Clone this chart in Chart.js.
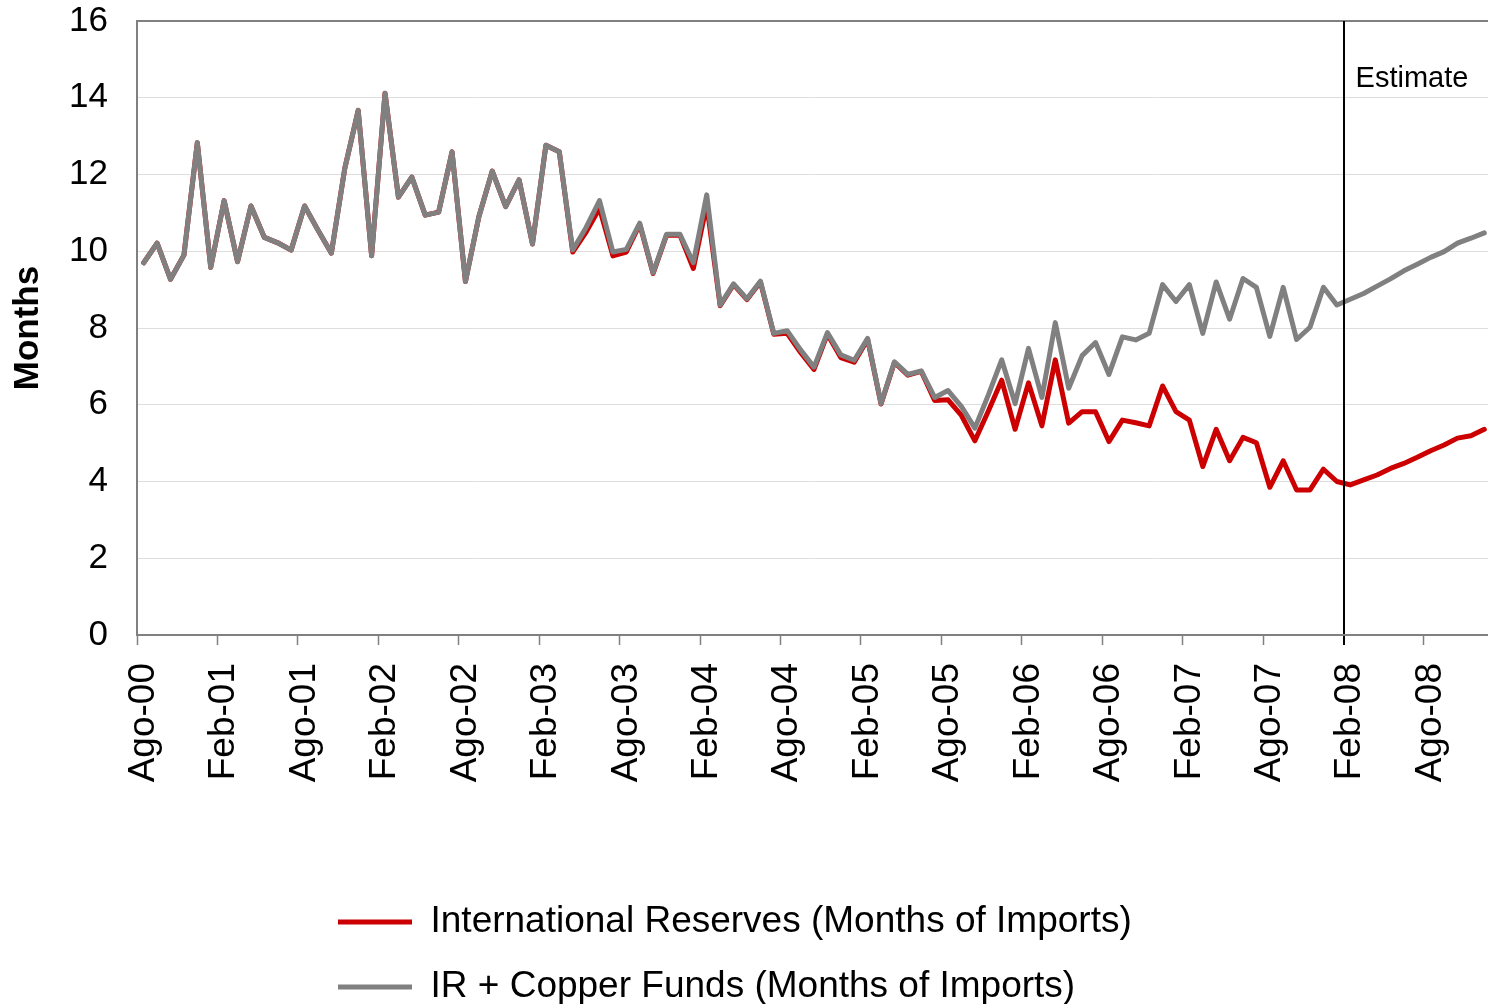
<!DOCTYPE html>
<html>
<head>
<meta charset="utf-8">
<script src="https://cdn.jsdelivr.net/npm/chart.js@4.4.1/dist/chart.umd.min.js"></script>
<style>
html,body{margin:0;padding:0;background:#fff;overflow:hidden;width:1488px;height:1004px;}
#wrap{position:absolute;left:0;top:0;width:1492px;height:1004px;}
</style>
</head>
<body>
<div id="wrap"><canvas id="c"></canvas></div>
<script>
// ---- categories (monthly, Ago-00 .. Dic-08) ----
const monthNames = ['Ene','Feb','Mar','Abr','May','Jun','Jul','Ago','Sep','Oct','Nov','Dic'];
const firstMonthIndex = 7;   // Ago
const firstYear = 2000;
const monthCount = 101;
const categories = [];
for (let k = 0; k < monthCount; k++) {
  const m = (firstMonthIndex + k) % 12;
  const y = firstYear + Math.floor((firstMonthIndex + k) / 12);
  categories.push(monthNames[m] + '-' + String(y % 100).padStart(2, '0'));
}
const labelEvery = 6;

// ---- series values (months of imports) ----
const internationalReserves = [
  9.70,10.21,9.27,9.90,12.83,9.58,11.32,9.73,11.18,10.36,
  10.22,10.03,11.18,10.55,9.95,12.16,13.67,9.88,14.12,11.41,
  11.93,10.94,11.02,12.59,9.21,10.90,12.09,11.16,11.86,10.19,
  12.76,12.59,9.98,10.50,11.12,9.88,9.98,10.70,9.42,10.42,
  10.42,9.55,11.22,8.58,9.13,8.74,9.20,7.84,7.86,7.36,
  6.92,7.84,7.23,7.11,7.70,6.02,7.10,6.77,6.87,6.11,
  6.13,5.72,5.06,5.83,6.64,5.36,6.57,5.45,7.17,5.52,
  5.82,5.82,5.04,5.60,5.53,5.45,6.49,5.82,5.60,4.39,
  5.36,4.54,5.15,5.01,3.85,4.54,3.78,3.78,4.32,4.00,
  3.91,4.04,4.17,4.34,4.47,4.63,4.80,4.95,5.13,5.19,
  5.36
];
const irPlusCopperFunds = [
  9.70,10.21,9.27,9.90,12.83,9.58,11.32,9.73,11.18,10.36,
  10.22,10.03,11.18,10.55,9.95,12.16,13.67,9.88,14.12,11.41,
  11.93,10.94,11.02,12.59,9.21,10.90,12.09,11.16,11.86,10.19,
  12.76,12.59,10.03,10.62,11.32,9.98,10.05,10.73,9.44,10.44,
  10.44,9.70,11.47,8.60,9.15,8.76,9.22,7.86,7.93,7.43,
  6.98,7.88,7.30,7.16,7.73,6.03,7.12,6.79,6.88,6.19,
  6.37,5.95,5.39,6.25,7.17,6.03,7.47,6.19,8.14,6.43,
  7.28,7.62,6.79,7.77,7.69,7.86,9.13,8.69,9.13,7.86,
  9.20,8.23,9.29,9.06,7.78,9.06,7.70,8.02,9.06,8.60,
  8.75,8.90,9.09,9.28,9.49,9.66,9.84,9.99,10.21,10.34,
  10.48
];
const seriesNames = ['International Reserves (Months of Imports)', 'IR + Copper Funds (Months of Imports)'];

// ---- y ticks ----
const yMin = 0, yMax = 16, yStep = 2;

// ---- annotation ----
const estimateStartLabel = 'Feb-08';
const estimateText = 'Estimate';
const estimateTextValue = 14.5;

const FONT = '"Liberation Sans", Arial, Helvetica, sans-serif';
Chart.defaults.font.family = FONT;
Chart.defaults.color = '#000';

const estIndex = categories.indexOf(estimateStartLabel);
const PLOT_BOTTOM = 635;

const legendPlacer = {
  id: 'legendPlacer',
  afterLayout(chart) {
    const lg = chart.legend;
    if (!lg) return;
    const h = lg.height;
    lg.left = 310;
    lg.right = chart.width;
    lg.top = 875.5;
    lg.bottom = lg.top + h;
  }
};

const estimateLabel = {
  id: 'estimateLabel',
  afterDraw(chart) {
    const xs = chart.scales.x, ys = chart.scales.y;
    const px = (xs.getPixelForValue(estIndex - 1) + xs.getPixelForValue(estIndex)) / 2;
    const ctx = chart.ctx;
    ctx.save();
    ctx.font = '29px ' + FONT;
    ctx.fillStyle = '#000';
    ctx.textAlign = 'left';
    ctx.textBaseline = 'middle';
    ctx.fillText(estimateText, px + 12, ys.getPixelForValue(estimateTextValue));
    ctx.restore();
  }
};

new Chart(document.getElementById('c'), {
  type: 'line',
  data: {
    labels: categories,
    datasets: [
      {
        label: seriesNames[0],
        data: internationalReserves,
        borderColor: '#cc0000',
        backgroundColor: '#cc0000',
        borderWidth: 5,
        pointRadius: 0,
        tension: 0,
        borderJoinStyle: 'round',
        borderCapStyle: 'round',
        order: 1
      },
      {
        label: seriesNames[1],
        data: irPlusCopperFunds,
        borderColor: '#808080',
        backgroundColor: '#808080',
        borderWidth: 5,
        pointRadius: 0,
        tension: 0,
        borderJoinStyle: 'round',
        borderCapStyle: 'round',
        order: 0
      }
    ]
  },
  options: {
    responsive: true,
    maintainAspectRatio: false,
    animation: false,
    events: [],
    layout: { padding: { top: 21, right: 1, left: 0, bottom: 0 } },
    plugins: {
      tooltip: { enabled: false },
      legend: {
        position: 'bottom',
        align: 'start',
        labels: {
          boxWidth: 74,
          boxHeight: 5,
          padding: 28,
          color: '#000',
          font: { size: 37 },
          sort: (a, b) => a.datasetIndex - b.datasetIndex,
          generateLabels: (chart) => Chart.defaults.plugins.legend.labels.generateLabels(chart).map(l => Object.assign({}, l, { lineWidth: 0, strokeStyle: l.fillStyle }))
        }
      }
    },
    scales: {
      x: {
        type: 'category',
        offset: true,
        grid: {
          offset: true,
          z: 1,
          drawOnChartArea: true,
          drawTicks: true,
          tickLength: 10,
          color: (ctx) => ctx.index === estIndex ? '#000' : 'rgba(0,0,0,0)',
          lineWidth: (ctx) => ctx.index === estIndex ? 2 : 1,
          tickColor: (ctx) => ctx.index === estIndex ? '#000' : (ctx.index % labelEvery === 0 ? '#808080' : 'rgba(0,0,0,0)'),
          tickWidth: (ctx) => ctx.index === estIndex ? 2 : 1.5
        },
        border: { display: true, color: '#808080', width: 2, z: 1 },
        ticks: {
          autoSkip: false,
          minRotation: 90,
          maxRotation: 90,
          padding: 18,
          color: '#000',
          font: { size: 37 },
          callback: (v, i) => (i % labelEvery === 0 ? categories[i] : '')
        },
        afterFit: (s) => {
          const lh = s.chart.legend ? s.chart.legend.height : 0;
          s.height = s.chart.height - PLOT_BOTTOM - lh;
          s.paddingLeft = 0;
          s.paddingRight = 0;
        }
      },
      y: {
        min: yMin,
        max: yMax,
        grid: {
          drawTicks: false,
          color: (ctx) => (ctx.tick && ctx.tick.value === yMax) ? '#808080' : ((ctx.tick && ctx.tick.value === yMin) ? 'rgba(0,0,0,0)' : '#dedede'),
          lineWidth: (ctx) => (ctx.tick && ctx.tick.value === yMax) ? 2 : 1
        },
        border: { display: true, color: '#808080', width: 2 },
        ticks: {
          stepSize: yStep,
          padding: 29,
          color: '#000',
          font: { size: 35 }
        },
        title: {
          display: true,
          text: 'Months',
          color: '#000',
          font: { size: 35, weight: 'bold' },
          padding: { top: 7, bottom: 0 }
        },
        afterFit: (s) => {
          s.width = 137;
          s.paddingTop = 0;
          s.paddingBottom = 0;
        }
      }
    }
  },
  plugins: [legendPlacer, estimateLabel]
});
</script>
</body>
</html>
